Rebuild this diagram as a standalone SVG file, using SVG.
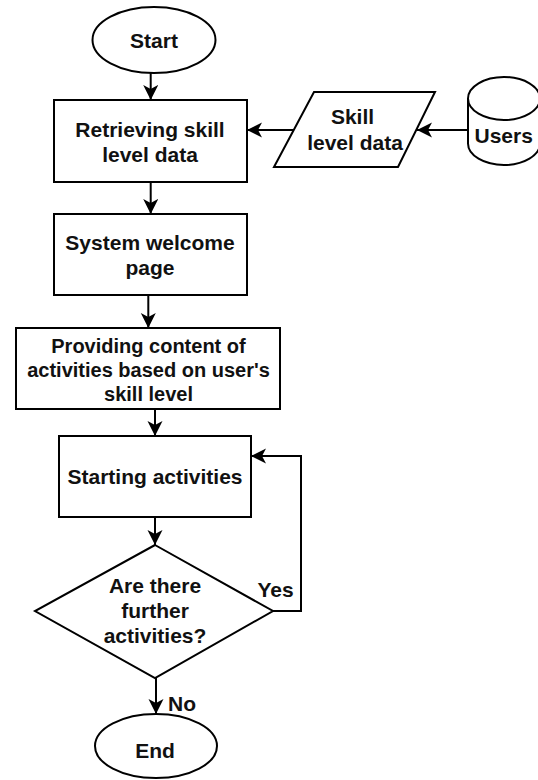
<svg xmlns="http://www.w3.org/2000/svg" width="538" height="780" viewBox="0 0 538 780">
<style>
.s{fill:#fff;stroke:#000;stroke-width:2}
.t{font-family:"Liberation Sans",Arial,sans-serif;font-weight:bold;font-size:21px;fill:#111;text-anchor:middle}
.p{font-size:20px}
.e{fill:none;stroke:#000;stroke-width:2}
</style>
<defs>
<marker id="a" markerUnits="userSpaceOnUse" markerWidth="16" markerHeight="16" refX="15" refY="7.5" orient="auto">
<path d="M0,0 L15,7.5 L0,15 L4,7.5 z" fill="#000"/>
</marker>
</defs>
<rect width="538" height="780" fill="#fff"/>
<g id="edges">
<path class="e" d="M150.7,73 V100" marker-end="url(#a)"/>
<path class="e" d="M150.7,182 V214" marker-end="url(#a)"/>
<path class="e" d="M148.3,295 V328" marker-end="url(#a)"/>
<path class="e" d="M155,409 V436" marker-end="url(#a)"/>
<path class="e" d="M155,517 V545" marker-end="url(#a)"/>
<path class="e" d="M156,678 V714" marker-end="url(#a)"/>
<path class="e" d="M273,611 H301 V456 H251" marker-end="url(#a)"/>
<path class="e" d="M468,130 H417" marker-end="url(#a)"/>
<path class="e" d="M294,130 H247" marker-end="url(#a)"/>
<text class="t" x="275.5" y="597" style="font-weight:bold">Yes</text>
<text class="t" x="168" y="711" style="text-anchor:start">No</text>
</g>
<g id="start">
<ellipse class="s" cx="154" cy="40" rx="61.5" ry="33"/>
<text class="t" x="154" y="48">Start</text>
</g>
<g id="retrieve">
<rect class="s" x="54" y="100" width="193" height="82"/>
<text class="t" x="150" y="137">Retrieving skill</text>
<text class="t" x="150" y="162">level data</text>
</g>
<g id="welcome">
<rect class="s" x="54" y="214" width="193" height="81"/>
<text class="t" x="150" y="250">System welcome</text>
<text class="t" x="150" y="275">page</text>
</g>
<g id="providing">
<rect class="s" x="16" y="328" width="264" height="81"/>
<text class="t p" x="148.5" y="353">Providing content of</text>
<text class="t p" x="148.5" y="377">activities based on user's</text>
<text class="t p" x="148.5" y="401">skill level</text>
</g>
<g id="starting">
<rect class="s" x="59" y="436" width="192" height="81"/>
<text class="t" x="155" y="484">Starting activities</text>
</g>
<g id="decision">
<path class="s" d="M155,545 L273,611 L155,678 L35,611 Z"/>
<text class="t" x="155" y="593">Are there</text>
<text class="t" x="155" y="618">further</text>
<text class="t" x="155" y="643">activities?</text>
</g>
<g id="end">
<ellipse class="s" cx="156" cy="746" rx="61" ry="32"/>
<text class="t" x="155" y="758">End</text>
</g>
<g id="skilldata">
<path class="s" d="M314,92 L435,92 L398,167 L274,167 Z"/>
<text class="t" x="352.5" y="124">Skill</text>
<text class="t" x="355" y="150">level data</text>
</g>
<g id="users">
<path class="s" d="M468,98.5 V143.5 A36,21.5 0 0 0 540,143.5 V98.5 A36,21.5 0 0 0 468,98.5 Z"/>
<path class="e" d="M468,98.5 A36,21.5 0 0 0 540,98.5"/>
<text class="t" x="503.7" y="143">Users</text>
</g>
</svg>
